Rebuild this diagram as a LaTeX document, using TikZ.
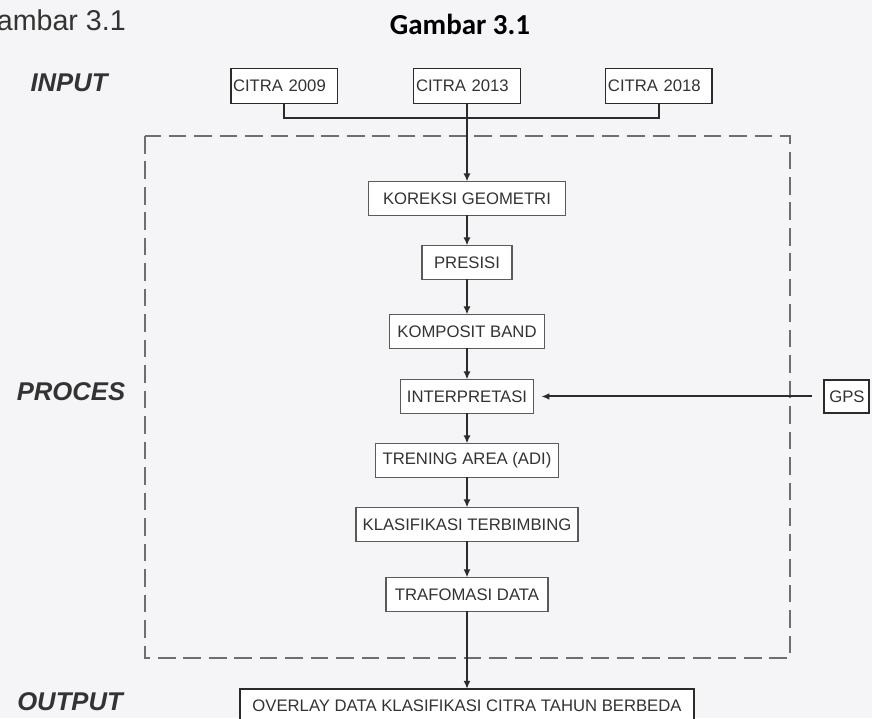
\documentclass[tikz,border=0pt]{standalone}
\usepackage{fontspec}
\setmainfont{Liberation Sans}
\newfontfamily\titlefont{Carlito}
\usetikzlibrary{positioning,arrows.meta}
\definecolor{bgGray}{HTML}{F5F5F7}
\definecolor{lineDark}{HTML}{2E2A2A}
\definecolor{boxGray}{HTML}{5A5A5A}
\definecolor{dashGray}{HTML}{6E6E6E}
\definecolor{textDark}{HTML}{333333}

\begin{document}
\begin{tikzpicture}[x=0.02cm, y=-0.02cm,
  node distance=0.6cm,
  stepbox/.style={rectangle, draw=boxGray, line width=0.6pt, fill=white, minimum height=0.68cm,
    inner sep=0pt, outer sep=0pt, font=\fontsize{9.5}{11}\selectfont, text=textDark},
  srcbox/.style={rectangle, draw=lineDark, line width=1.1pt, fill=white, minimum height=0.7cm,
    text width=2.04cm, inner xsep=0.05cm, inner ysep=0pt, outer sep=0pt, align=left,
    font=\fontsize{9.5}{11}\selectfont, text=textDark},
  outbox/.style={stepbox, draw=lineDark, line width=1.1pt},
  side/.style={font=\fontsize{14.6}{16}\selectfont\bfseries\itshape, text=textDark},
  flow/.style={-{Latex[length=1.6mm,width=1.4mm]}, lineDark, line width=1.1pt},
  bus/.style={lineDark, line width=1.1pt},
  frame/.style={dashGray, line width=0.7pt, dash pattern=on 10pt off 4.5pt}
]
  \fill[bgGray] (0,0) rectangle (872,718);
  \useasboundingbox (0,0) rectangle (872,718);

  % captions
  \node[anchor=base east, font=\fontsize{16.3}{18}\selectfont, text=textDark] (capleft) at (132,30) {Gambar 3.1};
  \node[anchor=base, font=\titlefont\fontsize{16.5}{18}\selectfont\bfseries] (title) at (460,34) {Gambar 3.1};

  % process frame
  \draw[frame] (145,136) rectangle (790,658);

  % input images
  \node[srcbox] (c13) at (467,86) {CITRA 2013};
  \node[srcbox, left=1.52cm of c13] (c09) {CITRA 2009};
  \node[srcbox, right=1.7cm of c13] (c18) {CITRA 2018};

  % processing chain
  \node[stepbox, minimum width=3.94cm, below=1.56cm of c13] (koreksi) {KOREKSI GEOMETRI};
  \node[stepbox, minimum width=1.8cm, below=0.6cm of koreksi] (presisi) {PRESISI};
  \node[stepbox, minimum width=3.1cm, below=0.7cm of presisi] (komposit) {KOMPOSIT BAND};
  \node[stepbox, minimum width=2.66cm, below=0.62cm of komposit] (interpretasi) {INTERPRETASI};
  \node[stepbox, minimum width=3.66cm, below=0.6cm of interpretasi] (trening) {TRENING AREA (ADI)};
  \node[stepbox, minimum width=4.44cm, below=0.6cm of trening] (klasifikasi) {KLASIFIKASI TERBIMBING};
  \node[stepbox, minimum width=3.24cm, below=0.72cm of klasifikasi] (trafomasi) {TRAFOMASI DATA};
  \node[outbox, minimum width=9.08cm, below=1.55cm of trafomasi] (overlay) {OVERLAY DATA KLASIFIKASI CITRA TAHUN BERBEDA};

  \node[outbox, minimum width=0.9cm, minimum height=0.66cm, right=5.82cm of interpretasi] (gps) {GPS};

  % side labels
  \node[side] (input) at (69,83) {INPUT};
  \node[side] (proces) at (71,392) {PROCES};
  \node[side] (output) at (70,702) {OUTPUT};

  % connectors
  \coordinate (bus) at (467,118);
  \draw[bus] (c09.south) |- (bus) -| (c18.south);
  \draw[flow] (c13.south) -- (koreksi.north);
  \foreach \a/\b in {koreksi/presisi, presisi/komposit, komposit/interpretasi, interpretasi/trening,
    trening/klasifikasi, klasifikasi/trafomasi, trafomasi/overlay}
    \draw[flow] (\a.south) -- (\b.north);
  \draw[flow] ([xshift=-0.24cm]gps.west) -- ([xshift=0.16cm]interpretasi.east);
\end{tikzpicture}
\end{document}
